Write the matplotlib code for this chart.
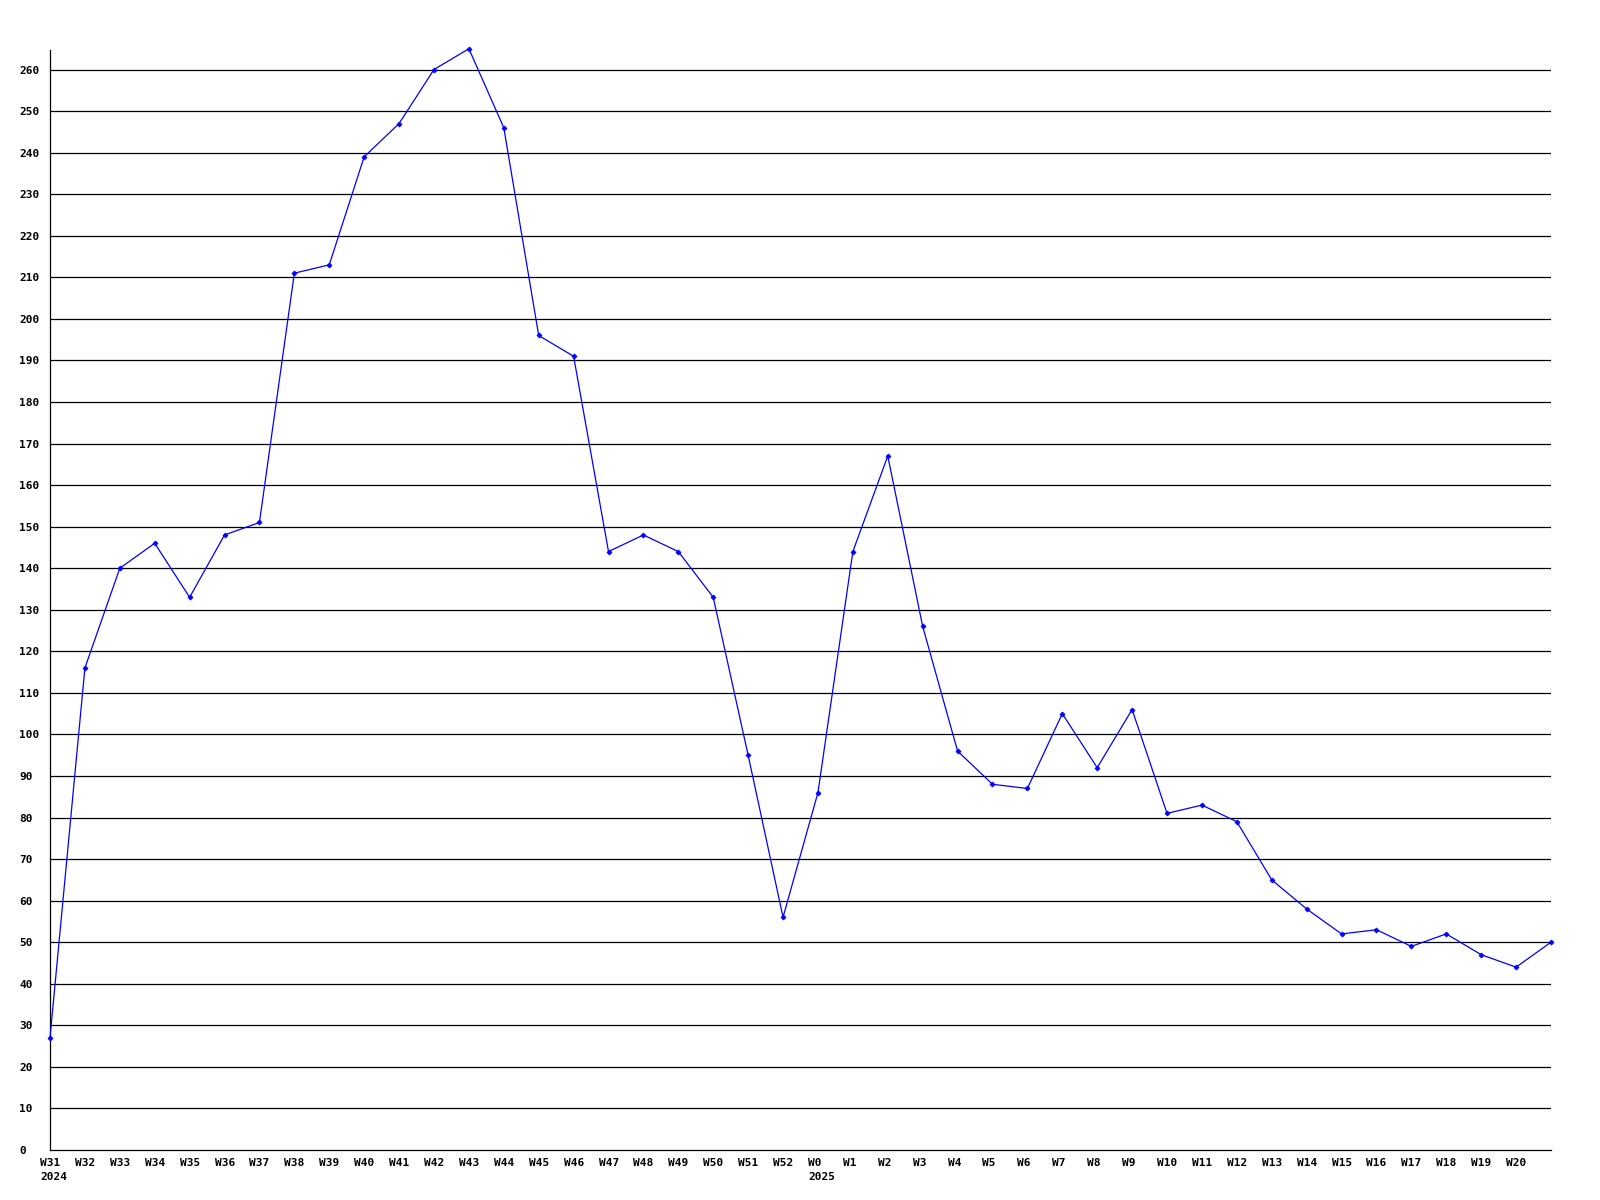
import matplotlib
matplotlib.use("Agg")
import matplotlib.pyplot as plt
from matplotlib.transforms import ScaledTranslation

weeks = ["W31", "W32", "W33", "W34", "W35", "W36", "W37", "W38", "W39", "W40",
         "W41", "W42", "W43", "W44", "W45", "W46", "W47", "W48", "W49", "W50",
         "W51", "W52", "W0", "W1", "W2", "W3", "W4", "W5", "W6", "W7",
         "W8", "W9", "W10", "W11", "W12", "W13", "W14", "W15", "W16", "W17",
         "W18", "W19", "W20", ""]
years = {0: "2024", 22: "2025"}
values = [27, 116, 140, 146, 133, 148, 151, 211, 213, 239,
          247, 260, 265, 246, 196, 191, 144, 148, 144, 133,
          95, 56, 86, 144, 167, 126, 96, 88, 87, 105,
          92, 106, 81, 83, 79, 65, 58, 52, 53, 49,
          52, 47, 44, 50]
y_ticks = list(range(0, 270, 10))

W, H = 1600, 1200
fig = plt.figure(figsize=(16, 12), dpi=100, facecolor="white")
ax = fig.add_axes([50 / W, (H - 1150) / H, (1551 - 50) / W, (1150 - 50) / H])
ax.set_facecolor("white")

x = list(range(len(values)))
for yt in y_ticks[1:]:
    ax.axhline(yt, color="black", lw=0.9, zorder=1)
ax.plot(x, values, color="#0000ff", lw=0.9, marker="D", markersize=2.6,
        markeredgewidth=0.5, zorder=3, clip_on=False)

ax.set_xlim(0, len(values) - 1)
ax.set_ylim(0, 264.7)

for s in ["top", "right"]:
    ax.spines[s].set_visible(False)
for s in ["left", "bottom"]:
    ax.spines[s].set_color("black")
    ax.spines[s].set_linewidth(0.9)

font = dict(family="DejaVu Sans Mono", weight="bold", size=8)

ax.set_yticks(y_ticks)
ax.set_yticklabels([str(v) for v in y_ticks], **font)
ax.tick_params(axis="y", length=0, pad=22.3)
for lab in ax.get_yticklabels():
    lab.set_horizontalalignment("left")

xlabels = [w + ("\n" + years[i] if i in years else "") for i, w in enumerate(weeks)]
ax.set_xticks(x)
ax.set_xticklabels(xlabels, **font)
ax.tick_params(axis="x", length=0, pad=5.5)
off = ScaledTranslation(-10 / 100, 0, fig.dpi_scale_trans)
for lab in ax.get_xticklabels():
    lab.set_horizontalalignment("left")
    lab.set_multialignment("left")
    lab.set_linespacing(1.5)
    lab.set_transform(lab.get_transform() + off)

fig.savefig("out.png", dpi=100, facecolor="white")
